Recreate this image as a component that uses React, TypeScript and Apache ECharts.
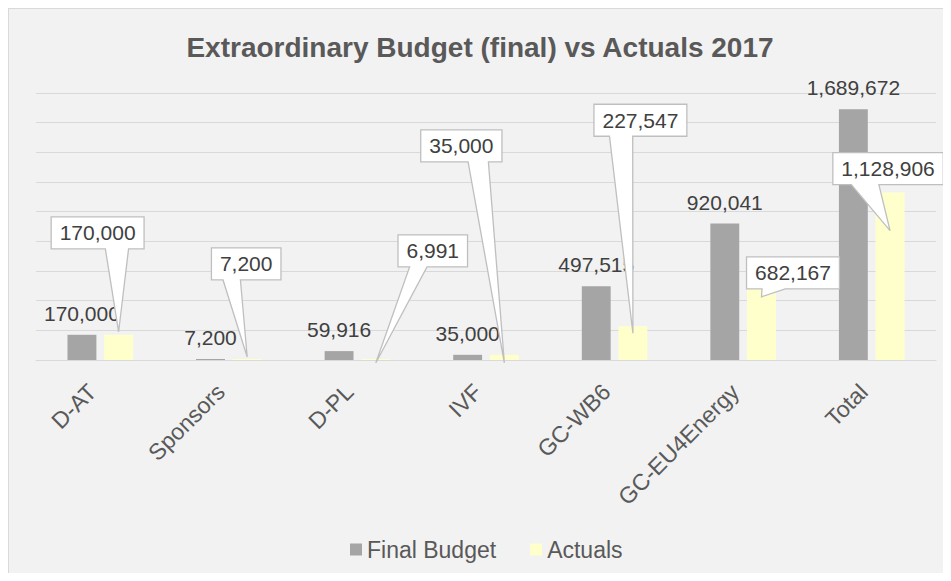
import React, { useEffect, useRef } from "react";
import * as echarts from "echarts";

const CATEGORIES = ["D-AT", "Sponsors", "D-PL", "IVF", "GC-WB6", "GC-EU4Energy", "Total"];
const FINAL_BUDGET = [170000, 7200, 59916, 35000, 497515, 920041, 1689672];
const ACTUALS = [170000, 7200, 6991, 35000, 227547, 682167, 1128906];
const SERIES_NAMES = ["Final Budget", "Actuals"];
const Y_MIN = 0;
const Y_MAX = 1800000;
const Y_INTERVAL = 200000;
// callout layout: [box dx, box dy, tip dy] relative to the top centre of each Actuals bar
const CALLOUT_OFFSETS = [
  [-21, -102, -3],
  [-1, -95, -2],
  [57, -108, 4],
  [-43, -209, 8],
  [7.5, -206, 7],
  [31.5, 14, 38],
  [-2, -24, 38],
];

const FONT = '"Liberation Sans", Arial, sans-serif';
const CAT_GAP = 0.49;
const BAR_GAP = 0.27;

const fmt = (v: number) => v.toLocaleString("en-US");

let measureCtx: CanvasRenderingContext2D | null = null;
function measure(text: string, size: number) {
  if (!measureCtx) {
    const c = document.createElement("canvas");
    measureCtx = c.getContext("2d");
  }
  if (!measureCtx) return text.length * size * 0.55;
  measureCtx.font = `${size}px ${FONT}`;
  return measureCtx.measureText(text).width;
}

export default function App() {
  const ref = useRef<HTMLDivElement>(null);

  useEffect(() => {
    document.documentElement.style.overflow = "hidden";
    if (!ref.current) return;
    const chart = echarts.init(ref.current, null, { renderer: "svg" });
    chart.setOption({
      animation: false,
      backgroundColor: "#f2f2f2",
      title: {
        text: "Extraordinary Budget (final) vs Actuals 2017",
        left: "center",
        top: 19,
        textStyle: { fontFamily: FONT, fontSize: 28, fontWeight: "bold", color: "#595959" },
      },
      legend: {
        data: SERIES_NAMES,
        left: 336,
        top: 524,
        icon: "rect",
        itemWidth: 12,
        itemHeight: 12,
        itemGap: 34,
        textStyle: { fontFamily: FONT, fontSize: 23, color: "#595959" },
      },
      grid: { left: 27, right: 15, top: 84, bottom: 213, containLabel: false },
      xAxis: {
        type: "category",
        data: CATEGORIES,
        axisLine: { show: true, lineStyle: { color: "#d9d9d9", width: 1 } },
        axisTick: { show: false },
        axisLabel: {
          rotate: 45,
          margin: 36,
          verticalAlign: "bottom",
          fontFamily: FONT,
          fontSize: 23,
          color: "#595959",
          interval: 0,
        },
      },
      yAxis: {
        type: "value",
        min: Y_MIN,
        max: Y_MAX,
        interval: Y_INTERVAL,
        axisLabel: { show: false },
        axisLine: { show: false },
        axisTick: { show: false },
        splitLine: { show: true, lineStyle: { color: "#d9d9d9", width: 1 } },
      },
      series: [
        {
          name: SERIES_NAMES[0],
          type: "bar",
          data: FINAL_BUDGET,
          barCategoryGap: CAT_GAP * 100 + "%",
          barGap: BAR_GAP * 100 + "%",
          itemStyle: { color: "#a5a5a5" },
          label: {
            show: true,
            position: "top",
            distance: 11,
            formatter: (p: any) => fmt(p.value),
            fontFamily: FONT,
            fontSize: 21,
            color: "#404040",
          },
          z: 2,
        },
        {
          name: SERIES_NAMES[1],
          type: "bar",
          data: ACTUALS,
          barCategoryGap: CAT_GAP * 100 + "%",
          barGap: BAR_GAP * 100 + "%",
          itemStyle: { color: "#ffffcc" },
          z: 2,
        },
        {
          name: "callouts",
          type: "custom",
          coordinateSystem: "cartesian2d",
          clip: false,
          z: 10,
          silent: true,
          encode: { x: 0, y: 1 },
          data: ACTUALS.map((v, i) => [i, v]),
          renderItem: (params: any, api: any) => {
            const i = params.dataIndex;
            const idx = api.value(0);
            const val = api.value(1);
            const pt = api.coord([idx, val]);
            const band = api.size([1, 0])[0];
            const bw = (band * (1 - CAT_GAP)) / (2 + BAR_GAP);
            const cx = pt[0] + (bw * (1 + BAR_GAP)) / 2;
            const [dx, dy, tdy] = CALLOUT_OFFSETS[i];
            const text = fmt(val);
            const tw = measure(text, 21);
            const w = tw + 17;
            const h = 32;
            const boxCx = cx + dx;
            const bx = boxCx - w / 2;
            const by = pt[1] + dy - h / 2;
            const bottom = by + h;
            const tip = [cx, pt[1] + tdy];
            const fr = tip[0] > boxCx + 5 ? [0.583, 0.833] : [0.167, 0.417];
            const b0 = bx + w * fr[0];
            const b1 = bx + w * fr[1];
            const points = [
              [bx, by],
              [bx + w, by],
              [bx + w, bottom],
              [b1, bottom],
              tip,
              [b0, bottom],
              [bx, bottom],
            ];
            return {
              type: "group",
              children: [
                {
                  type: "polygon",
                  shape: { points },
                  style: { fill: "#ffffff", stroke: "#bfbfbf", lineWidth: 1.3 },
                },
                {
                  type: "text",
                  x: boxCx,
                  y: by + h / 2,
                  style: {
                    text,
                    fill: "#404040",
                    fontFamily: FONT,
                    fontSize: 21,
                    align: "center",
                    verticalAlign: "middle",
                  },
                },
              ],
            };
          },
        },
      ],
    });
    return () => chart.dispose();
  }, []);

  return (
    <div
      style={{
        width: 943,
        height: 565,
        boxSizing: "border-box",
        borderLeft: "1px solid #d9d9d9",
        borderTop: "1px solid #d9d9d9",
        background: "#f2f2f2",
      }}
    >
      <div ref={ref} style={{ width: 942, height: 564 }} />
    </div>
  );
}
